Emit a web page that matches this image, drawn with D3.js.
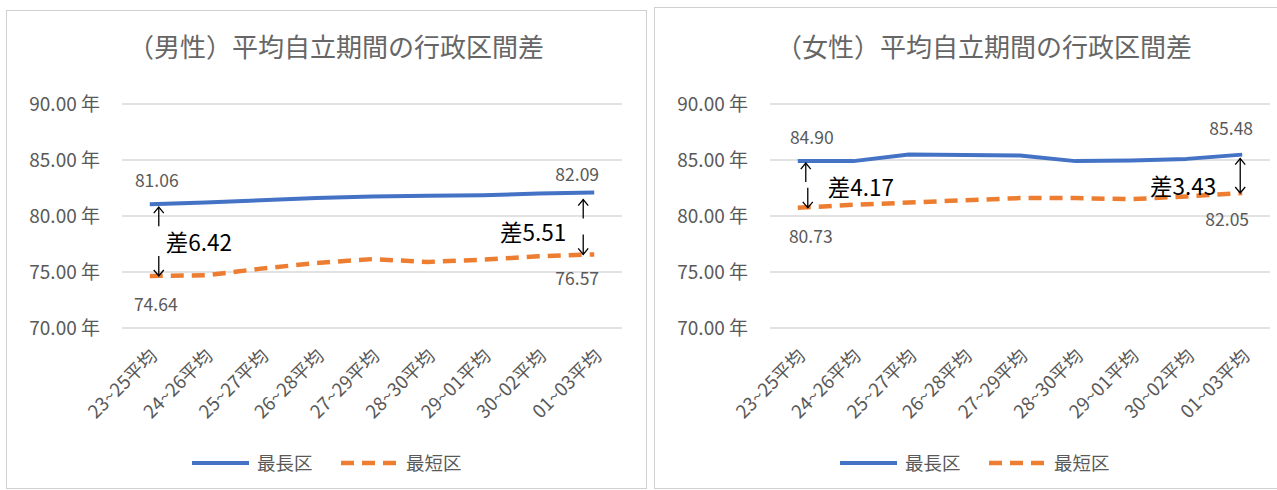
<!DOCTYPE html>
<html>
<head>
<meta charset="utf-8">
<script src="https://cdn.jsdelivr.net/npm/d3@7"></script>
<style>
  body { margin: 0; background: #fff; }
  text { font-family: "Noto Sans CJK JP", "Noto Sans", sans-serif; }
</style>
</head>
<body>
<div id="chart"></div>
<script>
// categories (年度の3年平均)
const categories = ["23~25平均", "24~26平均", "25~27平均", "26~28平均", "27~29平均",
                    "28~30平均", "29~01平均", "30~02平均", "01~03平均"];
const yTicks = [70, 75, 80, 85, 90];
const seriesNames = ["最長区", "最短区"];

// 男性
const maleLongest  = [81.06, 81.2, 81.4, 81.6, 81.75, 81.8, 81.85, 82.0, 82.09];
const maleShortest = [74.64, 74.7, 75.3, 75.8, 76.15, 75.9, 76.1, 76.4, 76.57];
const maleGapLabels = ["差6.42", "差5.51"];

// 女性
const femaleLongest  = [84.90, 84.9, 85.5, 85.45, 85.4, 84.9, 84.95, 85.1, 85.48];
const femaleShortest = [80.73, 81.0, 81.2, 81.4, 81.6, 81.6, 81.5, 81.75, 82.05];
const femaleGapLabels = ["差4.17", "差3.43"];

const width = 1277, height = 490;
const blue = "#4472c4", orange = "#ed7d31", grey = "#595959";

let svg = d3.select("#chart")
    .append("svg")
    .attr("width", width)
    .attr("height", height);

function drawPanel(opts) {
    let g = svg.append("g").attr("transform", `translate(${opts.left},0)`);

    // panel frame
    g.append("rect")
        .attr("x", 0.5).attr("y", opts.top + 0.5)
        .attr("width", 640).attr("height", height - opts.top - 2)
        .attr("fill", "#fff")
        .attr("stroke", "#d0d0d0");

    let x = d3.scalePoint()
        .domain(categories)
        .range([116, 616])
        .padding(0.5);

    let y = d3.scaleLinear()
        .domain([70, 90])
        .range([328, 104]);

    // title
    g.append("text")
        .attr("x", 330)
        .attr("y", 57)
        .attr("text-anchor", "middle")
        .style("font-size", "26px")
        .style("fill", "#666")
        .text(opts.title);

    // gridlines
    g.append("g")
        .selectAll("line")
        .data(yTicks)
        .join("line")
        .attr("x1", 116).attr("x2", 616)
        .attr("y1", d => y(d)).attr("y2", d => y(d))
        .attr("stroke", "#d9d9d9")
        .attr("stroke-width", 1.3);

    // y axis labels
    let yAxis = g.append("g")
        .attr("transform", "translate(116,0)")
        .call(d3.axisLeft(y).tickValues(yTicks).tickSize(0).tickPadding(22)
            .tickFormat(d => d3.format(".2f")(d) + " 年"));
    yAxis.select(".domain").remove();
    yAxis.selectAll("text")
        .style("font-size", "19px")
        .style("fill", grey)
        .style("font-family", "'Noto Sans CJK JP', sans-serif");

    // x axis labels (rotated)
    let xAxis = g.append("g")
        .attr("transform", "translate(0,328)")
        .call(d3.axisBottom(x).tickSize(0));
    xAxis.select(".domain").remove();
    xAxis.selectAll("text")
        .attr("text-anchor", "end")
        .attr("dy", 0)
        .attr("transform", "translate(6,27) rotate(-45)")
        .style("font-size", "18.5px")
        .style("fill", grey)
        .style("font-family", "'Noto Sans CJK JP', sans-serif");

    let line = d3.line()
        .x((d, i) => x(categories[i]))
        .y(d => y(d));

    g.append("path")
        .datum(opts.longest)
        .attr("d", line)
        .attr("fill", "none")
        .attr("stroke", blue)
        .attr("stroke-width", 4)
        .attr("stroke-linejoin", "round");

    g.append("path")
        .datum(opts.shortest)
        .attr("d", line)
        .attr("fill", "none")
        .attr("stroke", orange)
        .attr("stroke-width", 4.5)
        .attr("stroke-dasharray", "13,8");

    // data labels at first and last point
    const last = categories.length - 1;
    const labelSpots = [
        { v: opts.longest[0],     i: 0,    dx: opts.lab[0][0], dy: opts.lab[0][1] },
        { v: opts.longest[last],  i: last, dx: opts.lab[1][0], dy: opts.lab[1][1] },
        { v: opts.shortest[0],    i: 0,    dx: opts.lab[2][0], dy: opts.lab[2][1] },
        { v: opts.shortest[last], i: last, dx: opts.lab[3][0], dy: opts.lab[3][1] }
    ];
    g.append("g")
        .selectAll("text")
        .data(labelSpots)
        .join("text")
        .attr("x", d => x(categories[d.i]) + d.dx)
        .attr("y", d => y(d.v) + d.dy)
        .attr("text-anchor", "middle")
        .style("font-size", "17.5px")
        .style("fill", grey)
        .text(d => d3.format(".2f")(d.v));

    // gap arrows
    function arrow(px, y1, y2, upHead, downHead) {
        g.append("line")
            .attr("x1", px).attr("x2", px)
            .attr("y1", y1).attr("y2", y2)
            .attr("stroke", "#000").attr("stroke-width", 1.3);
        if (upHead) {
            g.append("path")
                .attr("d", `M${px - 5},${y1 + 6}L${px},${y1}L${px + 5},${y1 + 6}`)
                .attr("fill", "none").attr("stroke", "#000").attr("stroke-width", 1.3);
        }
        if (downHead) {
            g.append("path")
                .attr("d", `M${px - 5},${y2 - 6}L${px},${y2}L${px + 5},${y2 - 6}`)
                .attr("fill", "none").attr("stroke", "#000").attr("stroke-width", 1.3);
        }
    }

    opts.gaps.forEach((gp, k) => {
        const i = k === 0 ? 0 : last;
        const px = x(categories[i]) + gp.ax;
        const yTop = y(opts.longest[i]) + gp.top;
        const yBot = y(opts.shortest[i]);
        if (gp.split) {
            arrow(px, yTop, yTop + 19, true, false);
            arrow(px + gp.ax2, yBot - 20, yBot, false, true);
        } else {
            arrow(px, yTop, yBot, true, true);
        }
        g.append("text")
            .attr("x", x(categories[i]) + gp.tx)
            .attr("y", (yTop + yBot) / 2 + gp.ty)
            .attr("text-anchor", gp.anchor)
            .style("font-size", "22.5px")
            .style("fill", "#000")
            .text(opts.gapLabels[k]);
    });

    // legend
    let legend = g.append("g").attr("transform", "translate(0,463)");
    legend.append("line")
        .attr("x1", 186).attr("x2", 243)
        .attr("stroke", blue).attr("stroke-width", 4);
    legend.append("line")
        .attr("x1", 335).attr("x2", 393)
        .attr("stroke", orange).attr("stroke-width", 4.5)
        .attr("stroke-dasharray", "13,8");
    legend.selectAll("text")
        .data(seriesNames)
        .join("text")
        .attr("x", (d, i) => i === 0 ? 251 : 400)
        .attr("y", 7)
        .style("font-size", "18.5px")
        .style("fill", grey)
        .text(d => d);
}

drawPanel({
    left: 6, top: 10,
    title: "（男性）平均自立期間の行政区間差",
    longest: maleLongest, shortest: maleShortest, gapLabels: maleGapLabels,
    lab: [[7, -17], [-17, -12], [6, 35], [-17, 31]],
    gaps: [
        { split: true, ax: 9, ax2: 0, top: 3, tx: 16, ty: 9, anchor: "start" },
        { split: true, ax: -11, ax2: 0, top: 7, tx: -28, ty: 14, anchor: "end" }
    ]
});

drawPanel({
    left: 654, top: 7,
    title: "（女性）平均自立期間の行政区間差",
    longest: femaleLongest, shortest: femaleShortest, gapLabels: femaleGapLabels,
    lab: [[14, -17], [-11, -20], [13, 35], [-15, 33]],
    gaps: [
        { split: true, ax: 8, ax2: 2, top: 2, tx: 30, ty: 11, anchor: "start" },
        { split: false, ax: -2, ax2: 0, top: 4, tx: -26, ty: 19, anchor: "end" }
    ]
});
</script>
</body>
</html>
